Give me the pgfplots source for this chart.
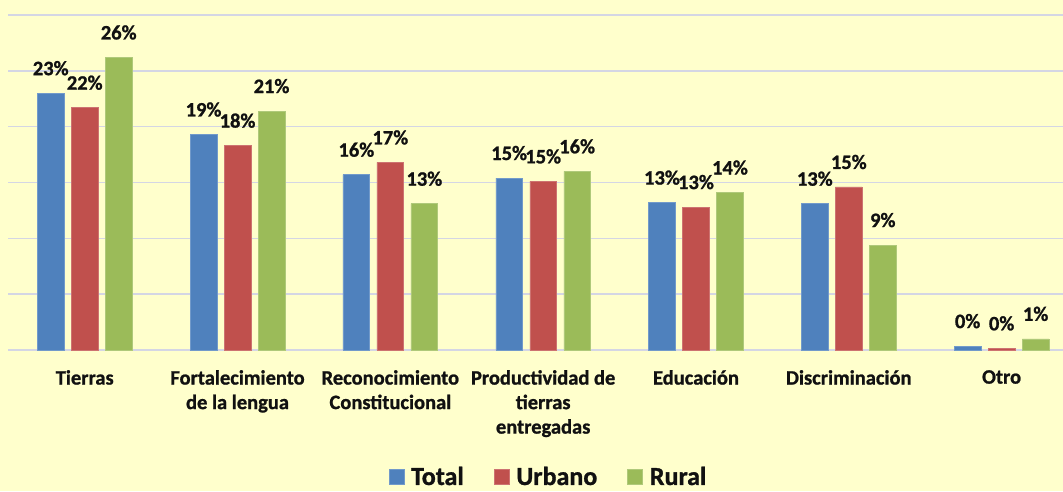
\documentclass[border=0pt]{standalone}
\usepackage{pgfplots}
\pgfplotsset{compat=1.18}
\usepackage{fontspec}
\setmainfont{Carlito}[BoldFeatures={FakeBold=1}]
\definecolor{bg}{HTML}{FFFFCC}
\definecolor{gridc}{HTML}{D4D6E4}
\definecolor{cTotal}{HTML}{4F81BD}
\definecolor{cUrb}{HTML}{C0504D}
\definecolor{cRur}{HTML}{9BBB59}
\definecolor{txt}{HTML}{111111}
\pgfplotstableread{
x total urbano rural
0 23.0 21.7 26.2
1 19.3 18.3 21.4
2 15.7 16.8 13.1
3 15.4 15.1 16.0
4 13.2 12.8 14.1
5 13.1 14.6 9.4
6 0.35 0.15 1.0
}\datatab
\begin{document}
\begin{tikzpicture}
\useasboundingbox (0,0) rectangle (1063pt,491pt);
\fill[bg] (0,0) rectangle (1063pt,491pt);
\begin{axis}[
 at={(8.3pt,141pt)}, anchor=south west,
 scale only axis, width=1054.7pt, height=335pt,
 xmin=-0.5, xmax=6.402, ymin=0, ymax=30,
 ybar=7.3pt, bar width=26.7pt,
 axis line style={draw=none},
 major tick length=0pt,
 ytick={0,5,...,30}, yticklabels={},
 ymajorgrids, grid style={gridc, line width=1.6pt},
 xtick={0,...,6},
 xticklabels={Tierras, {Fortalecimiento\\de la lengua}, {Reconocimiento\\Constitucional}, {Productividad de\\tierras\\entregadas}, Educación, Discriminación, Otro},
 xticklabel style={align=center, font=\fontsize{20.5}{24.5}\selectfont\bfseries, text=txt, inner sep=0pt, yshift=-20pt},
 nodes near coords={\pgfmathprintnumber{\pgfplotspointmeta}\%},
 nodes near coords style={font=\fontsize{20.5}{24.5}\selectfont\bfseries, text=txt, anchor=base, yshift=18pt, inner sep=0pt, /pgf/number format/.cd, fixed, precision=0, assume math mode=true},
 legend columns=3,
 legend style={at={(axis description cs:0.5112,-0.408)}, anchor=south, draw=none, fill=none, inner sep=0pt,
   font=\fontsize{26}{30}\selectfont\bfseries, text=txt,
   nodes={inner sep=0pt},
   /tikz/every odd column/.append style={column sep=7pt},
   /tikz/every even column/.append style={column sep=30pt}},
 legend image code/.code={\fill[#1] (0pt,-8pt) rectangle (15pt,7pt);},
]
\addplot[fill=cTotal, draw=cTotal!80!white, line width=0.6pt] table[x=x, y=total] {\datatab};
\addplot[fill=cUrb, draw=cUrb!80!white, line width=0.6pt] table[x=x, y=urbano] {\datatab};
\addplot[fill=cRur, draw=cRur!80!white, line width=0.6pt] table[x=x, y=rural] {\datatab};
\legend{Total, Urbano, Rural}
\end{axis}
\end{tikzpicture}
\end{document}
